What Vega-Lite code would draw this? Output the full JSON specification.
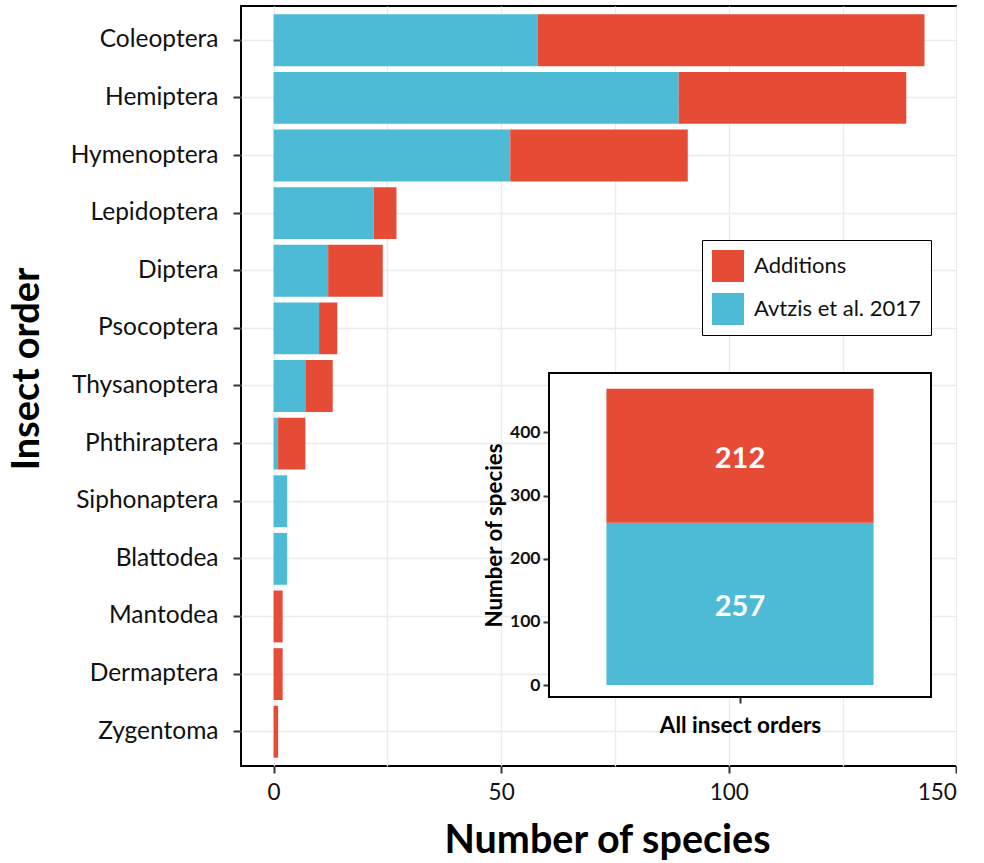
{
  "$schema": "https://vega.github.io/schema/vega-lite/v6.json",
  "padding": {"left": 8, "top": 6, "right": 0, "bottom": 0},
  "background": "white",
  "width": 716,
  "height": 760,
  "datasets": {
    "orders": [
      {"order": "Coleoptera", "source": "Avtzis et al. 2017", "n": 58},
      {"order": "Coleoptera", "source": "Additions", "n": 85},
      {"order": "Hemiptera", "source": "Avtzis et al. 2017", "n": 89},
      {"order": "Hemiptera", "source": "Additions", "n": 50},
      {"order": "Hymenoptera", "source": "Avtzis et al. 2017", "n": 52},
      {"order": "Hymenoptera", "source": "Additions", "n": 39},
      {"order": "Lepidoptera", "source": "Avtzis et al. 2017", "n": 22},
      {"order": "Lepidoptera", "source": "Additions", "n": 5},
      {"order": "Diptera", "source": "Avtzis et al. 2017", "n": 12},
      {"order": "Diptera", "source": "Additions", "n": 12},
      {"order": "Psocoptera", "source": "Avtzis et al. 2017", "n": 10},
      {"order": "Psocoptera", "source": "Additions", "n": 4},
      {"order": "Thysanoptera", "source": "Avtzis et al. 2017", "n": 7},
      {"order": "Thysanoptera", "source": "Additions", "n": 6},
      {"order": "Phthiraptera", "source": "Avtzis et al. 2017", "n": 1},
      {"order": "Phthiraptera", "source": "Additions", "n": 6},
      {"order": "Siphonaptera", "source": "Avtzis et al. 2017", "n": 3},
      {"order": "Siphonaptera", "source": "Additions", "n": 0},
      {"order": "Blattodea", "source": "Avtzis et al. 2017", "n": 3},
      {"order": "Blattodea", "source": "Additions", "n": 0},
      {"order": "Mantodea", "source": "Avtzis et al. 2017", "n": 0},
      {"order": "Mantodea", "source": "Additions", "n": 2},
      {"order": "Dermaptera", "source": "Avtzis et al. 2017", "n": 0},
      {"order": "Dermaptera", "source": "Additions", "n": 2},
      {"order": "Zygentoma", "source": "Avtzis et al. 2017", "n": 0},
      {"order": "Zygentoma", "source": "Additions", "n": 1}
    ]
  },
  "data": {"name": "orders"},
  "config": {
    "font": "Lato",
    "view": {"stroke": "black", "strokeWidth": 2, "fill": "white"},
    "axis": {
      "domain": false,
      "tickColor": "#333333",
      "tickWidth": 2,
      "labelColor": "#111111",
      "titleColor": "#000000",
      "gridColor": "#EBEBEB",
      "gridWidth": 1.3
    }
  },
  "resolve": {"scale": {"x": "independent", "y": "independent"}},
  "layer": [
    {
      "mark": {"type": "bar"},
      "encoding": {
        "y": {
          "field": "order",
          "type": "nominal",
          "sort": ["Coleoptera", "Hemiptera", "Hymenoptera", "Lepidoptera", "Diptera", "Psocoptera", "Thysanoptera", "Phthiraptera", "Siphonaptera", "Blattodea", "Mantodea", "Dermaptera", "Zygentoma"],
          "scale": {"paddingInner": 0.1, "paddingOuter": 0.145},
          "axis": {
            "orient": "left",
            "title": "Insect order",
            "titleFontSize": 38,
            "titleFontWeight": "bold",
            "titleX": -203,
            "titleY": 362.5,
            "titleBaseline": "alphabetic",
            "titleAngle": -90,
            "labelFontSize": 24.5,
            "labelPadding": 15,
            "tickSize": 8,
            "grid": true
          }
        },
        "x": {
          "field": "n",
          "type": "quantitative",
          "stack": "zero",
          "scale": {"domain": [-7.15, 150.15], "nice": false, "zero": false},
          "axis": {
            "orient": "bottom",
            "title": "Number of species",
            "values": [0, 25, 50, 75, 100, 125, 150],
            "labelExpr": "datum.value % 50 === 0 ? datum.label : ''",
            "tickOpacity": {"condition": {"test": "datum.value % 50 === 0", "value": 1}, "value": 0},
            "tickSize": 7,
            "labelFontSize": 22.5,
            "labelPadding": 8,
            "titleFontSize": 39.5,
            "titleFontWeight": "bold",
            "titleX": 366,
            "titleY": 86,
            "titleBaseline": "alphabetic",
            "grid": true
          }
        },
        "color": {
          "field": "source",
          "type": "nominal",
          "scale": {"domain": ["Additions", "Avtzis et al. 2017"], "range": ["#E64B35", "#4DBBD5"]},
          "legend": {
            "title": null,
            "orient": "none",
            "legendX": 461,
            "legendY": 234,
            "symbolType": "square",
            "symbolSize": 1024,
            "symbolStrokeWidth": 0,
            "symbolOpacity": 1,
            "labelFontSize": 22,
            "labelColor": "#111111",
            "labelOffset": 10,
            "labelLimit": 400,
            "rowPadding": 11,
            "padding": 10,
            "strokeColor": "black",
            "fillColor": "white"
          }
        },
        "order": {"field": "source", "sort": "descending"}
      }
    },
    {
      "encoding": {
        "x": {
          "datum": "All insect orders",
          "type": "nominal",
          "scale": {"range": [308, 690], "paddingInner": 0, "paddingOuter": 0.215},
          "axis": {
            "orient": "bottom",
            "offset": -69,
            "title": "All insect orders",
            "labels": false,
            "tickSize": 6,
            "titleFontSize": 22.5,
            "titleFontWeight": "bold",
            "titleY": 35,
            "titleBaseline": "alphabetic",
            "grid": false
          }
        }
      },
      "layer": [
        {
          "transform": [{"aggregate": [{"op": "count", "as": "rows"}]}],
          "mark": {"type": "rect", "fill": "white", "stroke": "black", "strokeWidth": 2, "width": 382},
          "encoding": {
            "y": {
              "datum": -19,
              "type": "quantitative",
              "scale": {"domain": [-19, 494], "range": [691, 367], "nice": false, "zero": false},
              "axis": {
                "orient": "left",
                "offset": -308,
                "title": "Number of species",
                "values": [0, 100, 200, 300, 400],
                "grid": false,
                "tickSize": 6,
                "labelPadding": 3,
                "labelFontSize": 17.5,
                "labelFontWeight": "bold",
                "titleFontSize": 22.3,
                "titleFontWeight": "bold",
                "titleX": -48,
                "titleBaseline": "alphabetic"
              }
            },
            "y2": {"datum": 494}
          }
        },
        {
          "mark": {"type": "bar"},
          "encoding": {
            "y": {
              "aggregate": "sum",
              "field": "n",
              "type": "quantitative",
              "stack": "zero",
              "title": "Number of species"
            },
            "color": {
              "field": "source",
              "type": "nominal",
              "scale": {"domain": ["Additions", "Avtzis et al. 2017"], "range": ["#E64B35", "#4DBBD5"]},
              "legend": null
            },
            "order": {"field": "source", "sort": "descending"}
          }
        },
        {
          "mark": {"type": "text", "fontWeight": "bold", "fontSize": 29, "color": "white", "baseline": "middle", "dy": 3},
          "encoding": {
            "y": {
              "aggregate": "sum",
              "field": "n",
              "type": "quantitative",
              "stack": "zero",
              "bandPosition": 0.5,
              "title": "Number of species"
            },
            "text": {"aggregate": "sum", "field": "n", "type": "quantitative"},
            "detail": {"field": "source", "type": "nominal"},
            "order": {"field": "source", "sort": "descending"}
          }
        }
      ]
    }
  ]
}
